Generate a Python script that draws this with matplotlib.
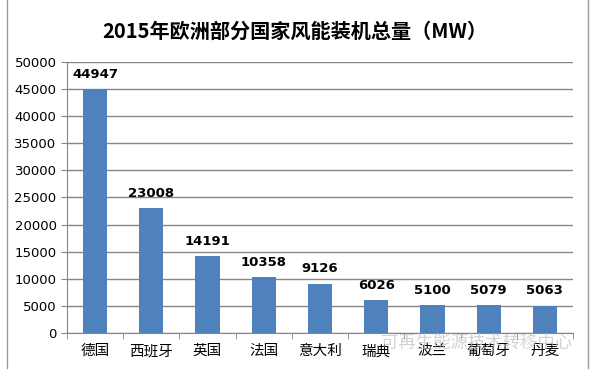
import matplotlib
matplotlib.use("Agg")
import matplotlib.pyplot as plt
from matplotlib.lines import Line2D

plt.rcParams['font.family'] = ['DejaVu Sans', 'Noto Sans CJK SC']

# data
countries = ['德国', '西班牙', '英国', '法国', '意大利', '瑞典', '波兰', '葡萄牙', '丹麦']
capacity_mw = [44947, 23008, 14191, 10358, 9126, 6026, 5100, 5079, 5063]
yticks = list(range(0, 50001, 5000))

fig = plt.figure(figsize=(5.96, 3.75), dpi=100)
ax = fig.add_axes([0.1124, 0.112, 0.849, 0.7227])

x = list(range(len(countries)))
ax.bar(x, capacity_mw, width=0.43, color='#4F81BD', zorder=3)

for xi, v in zip(x, capacity_mw):
    ax.annotate(str(v), (xi, v), xytext=(0, 6), textcoords='offset points',
                ha='center', va='bottom', fontsize=9.5, fontweight='bold')

ax.set_xlim(-0.5, len(countries) - 0.5)
ax.set_ylim(0, 50000)
ax.set_yticks(yticks)
ax.set_yticklabels([str(t) for t in yticks], fontsize=9.5)
ax.yaxis.grid(True, color='#868686', linewidth=1, zorder=0)

ax.set_xticks(x)
ax.set_xticklabels(countries, fontsize=10.5, family=['Noto Sans CJK SC', 'DejaVu Sans'])
ax.tick_params(axis='x', length=0, pad=8)
ax.set_xticks([i - 0.5 for i in range(len(countries) + 1)], minor=True)
ax.tick_params(axis='x', which='minor', length=4, color='#868686')
ax.tick_params(axis='y', length=4, color='#868686')

for side in ['top', 'right']:
    ax.spines[side].set_visible(False)
for side in ['left', 'bottom']:
    ax.spines[side].set_color('#868686')

fig.text(0.495, 0.918, '2015年欧洲部分国家风能装机总量（MW）', ha='center', va='center',
         fontsize=14.5, fontweight='bold', family=['Noto Sans CJK SC', 'DejaVu Sans'])

# outer frame lines
fig.add_artist(Line2D([0.012, 0.012], [0.02, 1.0], color='#9a9a9a', lw=1))
fig.add_artist(Line2D([0.987, 0.987], [0.02, 1.0], color='#9a9a9a', lw=1))

# watermark
fig.text(0.80, 0.085, '可再生能源技术转移中心', ha='center', va='center', fontsize=12.5,
         color='#c0c0c0', alpha=0.7, family=['Noto Sans CJK SC', 'DejaVu Sans'])

fig.savefig('out.png', dpi=100)
